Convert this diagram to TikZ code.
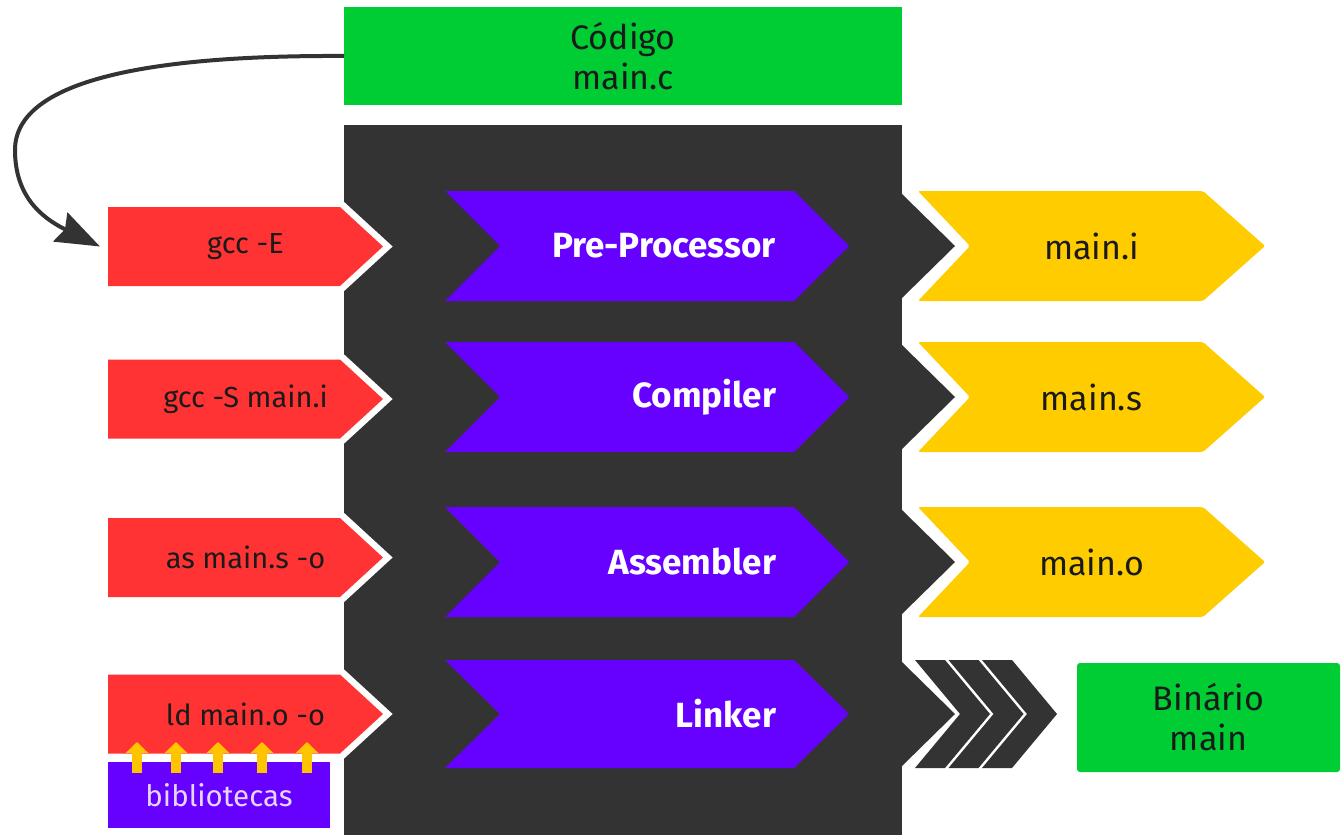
\documentclass[tikz,border=0pt]{standalone}
\usepackage{fontspec}
\setmainfont{Fira Sans}
\usetikzlibrary{arrows.meta}

\definecolor{codegreen}{HTML}{00CC33}
\definecolor{cmdred}{HTML}{FF3333}
\definecolor{stageviolet}{HTML}{6600FF}
\definecolor{fileyellow}{HTML}{FFCC00}
\definecolor{coregray}{HTML}{333333}
\definecolor{libtext}{HTML}{E6D6FF}
\definecolor{libarrowcol}{HTML}{FFC400}
\definecolor{inktext}{HTML}{1A1A1A}

\begin{document}
\begin{tikzpicture}[x=1pt,y=-1pt,
  plainbox/.style={inner sep=0pt, outer sep=0pt},
  cmdtext/.style={plainbox, font=\fontsize{29}{34}\selectfont, text=inktext,
    minimum width=275pt, minimum height=79pt},
  stagetext/.style={plainbox, font=\bfseries\fontsize{35}{40}\selectfont,
    text=white, anchor=east},
  filetext/.style={plainbox, font=\fontsize{34}{40}\selectfont, text=inktext,
    minimum width=347pt, minimum height=110pt},
  halo/.style={draw=white, line width=13pt, line join=miter},
  flow/.style={draw=coregray, line width=4pt,
    -{Stealth[length=44pt,width=32pt,inset=5pt]}},
  libarrow/.style={draw=libarrowcol, line width=10pt, line cap=butt,
    -{Triangle[width=22pt,length=11pt]}},
]
\useasboundingbox (0,0) rectangle (1344,838);

% toolchain body
\node[plainbox, fill=coregray, minimum width=558pt, minimum height=710pt] (core) at (623,480) {};

% source file
\node[plainbox, fill=codegreen, minimum width=558pt, minimum height=98pt,
  align=center, font=\fontsize{34}{40}\selectfont, text=inktext] (code) at (623,56) {Código\\main.c};

% commands entering the toolchain
\foreach \yc/\txt/\nm in {246.5/gcc -E/cmdE, 399/gcc -S main.i/cmdS,
                          557.5/as main.s -o/cmdAs, 714/ld main.o -o/cmdLd}{
  \path[halo] (108,\yc-39.5) -- (340,\yc-39.5) -- (383,\yc) -- (340,\yc+39.5) -- (108,\yc+39.5) -- cycle;
  \fill[cmdred] (108,\yc-39.5) -- (340,\yc-39.5) -- (383,\yc) -- (340,\yc+39.5) -- (108,\yc+39.5) -- cycle;
  \node[cmdtext] (\nm) at (245.5,\yc) {\txt};
}

% stages
\foreach \yc/\hh/\txt/\nm in {246/55/Pre-Processor/stPre, 397/55/Compiler/stComp,
                              562/55/Assembler/stAsm, 714/54/Linker/stLink}{
  \fill[stageviolet] (445,\yc-\hh) -- (794,\yc-\hh) -- (849,\yc) -- (794,\yc+\hh) -- (445,\yc+\hh) -- (500,\yc) -- cycle;
  \node[stagetext] (\nm) at (776,\yc) {\txt};
}

% outlets on the right side of the body
\foreach \yc in {246,397,562,714}
  \fill[coregray] (901,\yc-53) -- (955,\yc) -- (901,\yc+53) -- cycle;

% intermediate files
\foreach \yc/\txt/\nm in {246/main.i/fileI, 397/main.s/fileS, 562/main.o/fileO}{
  \path[halo, line width=12pt] (918,\yc-55) -- (1203,\yc-55) -- (1265,\yc) -- (1203,\yc+55) -- (918,\yc+55) -- (970,\yc) -- cycle;
  \fill[fileyellow, rounded corners=2pt] (918,\yc-55) -- (1203,\yc-55) -- (1265,\yc) -- (1203,\yc+55) -- (918,\yc+55) -- (970,\yc) -- cycle;
  \node[filetext] (\nm) at (1091.5,\yc) {\txt};
}

% chevrons towards the binary
\foreach \x in {915,948.5,982}
  \fill[coregray] (\x,660) -- (\x+30,660) -- (\x+75,714) -- (\x+30,768) -- (\x,768) -- (\x+45,714) -- cycle;

% final binary
\node[plainbox, fill=codegreen, rounded corners=3pt, minimum width=263pt, minimum height=109pt,
  align=center, font=\fontsize{34}{40}\selectfont, text=inktext] (bin) at (1208.5,717.5) {Binário\\main};

% libraries feeding the linker
\node[plainbox, fill=stageviolet, minimum width=222pt, minimum height=66pt,
  font=\fontsize{29.5}{32}\selectfont, text=libtext] (lib) at (219,795) {bibliotecas};
\foreach \dx in {29,68,110,154,199}
  \draw[libarrow] ([xshift=\dx pt, yshift=-11pt]lib.north west) -- ++(0,-31);

% source goes to the pre-processor command
\draw[flow] (code.west) .. controls (150,55) and (15,80) .. (15,150)
  .. controls (15,195) and (40,217) .. ([xshift=-8pt]cmdE.west);
\end{tikzpicture}
\end{document}
